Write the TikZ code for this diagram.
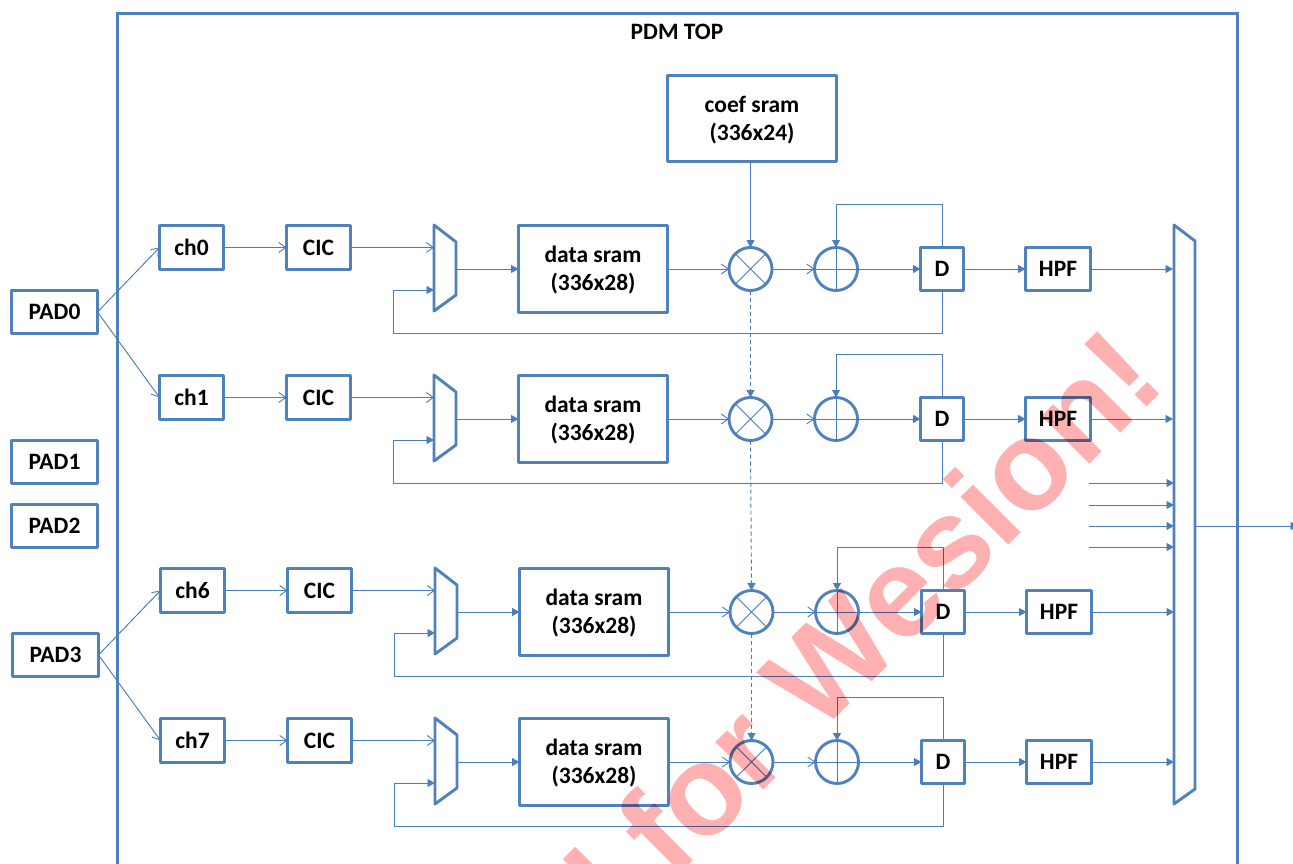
\documentclass[tikz,border=0pt]{standalone}
\usepackage{fontspec}
\setmainfont{Carlito}
\newfontfamily\wmfont{Liberation Sans}
\usetikzlibrary{arrows.meta}
\definecolor{boxblue}{HTML}{4F81BD}
\definecolor{wirblue}{HTML}{4A7EBB}
\definecolor{wmpink}{HTML}{FFB0B0}
\tikzset{
  blockbox/.style={draw=boxblue,line width=3.1pt,line join=round,outer sep=0pt,inner sep=0pt,font=\fontsize{23.5}{28}\selectfont\bfseries,align=center,text=black},
  bubble/.style={circle,draw=boxblue,line width=2.9pt,outer sep=0pt,inner sep=0pt,minimum size=43pt},
  muxshape/.style={draw=boxblue,line width=2.9pt,line join=round},
  wire/.style={draw=wirblue,line width=0.95pt},
  fillarrow/.style={wire,-{Triangle[width=8pt,length=7.5pt]}},
  openarrow/.style={wire,-{Straight Barb[width=10pt,length=7pt,line width=0.9pt]}},
  dasharrow/.style={fillarrow,dash pattern=on 4pt off 3pt},
  crossline/.style={wire,line width=0.9pt},
}
\begin{document}
\begin{tikzpicture}[x=1pt,y=-1pt]
\useasboundingbox (0,0) rectangle (1293,864);
\clip (0,0) rectangle (1293,864);
\fill[white] (0,0) rectangle (1293,864);
% top frame
\draw[boxblue,line width=3.1pt] (117.5,890) -- (117.5,13.5) -- (1237.5,13.5) -- (1237.5,890);
\node[font=\fontsize{23.5}{28}\selectfont\bfseries,text=black] (toplabel) at (677,32) {PDM TOP};
% pads
\node[blockbox,minimum width=86pt,minimum height=43pt] (PAD0) at (54.5,312) {PAD0};
\node[blockbox,minimum width=86pt,minimum height=43pt] (PAD1) at (54.5,462) {PAD1};
\node[blockbox,minimum width=86pt,minimum height=43pt] (PAD2) at (54.5,526) {PAD2};
\node[blockbox,minimum width=86pt,minimum height=43pt] (PAD3) at (55.5,655) {PAD3};
% coef
\node[blockbox,minimum width=169pt,minimum height=86pt] (coef) at (752,118.5) {\rule{0pt}{19.5pt}coef sram\\(336x24)};
% big mux
\coordinate (bm1) at (1174,225);
\coordinate (bm2) at (1195,241);
\coordinate (bm3) at (1195,789);
\coordinate (bm4) at (1174,804);
\draw[muxshape] (bm1) -- (bm2) -- (bm3) -- (bm4) -- cycle;
% rows
\foreach \s/\dx/\dy/\chn in {0/0/0/ch0,1/0/150/ch1,6/1/343/ch6,7/1/493/ch7}{
\begin{scope}[shift={(\dx,\dy)}]
  \node[blockbox,minimum width=64pt,minimum height=44pt] (ch\s) at (191.5,247.5) {\chn};
  \node[blockbox,minimum width=64pt,minimum height=44pt] (cic\s) at (318.5,247.5) {CIC};
  \coordinate (ma\s) at (434,225);
  \coordinate (mb\s) at (456,242);
  \coordinate (mc\s) at (456,295);
  \coordinate (md\s) at (434,311);
  \coordinate (min\s) at (434,247.5);
  \coordinate (mfb\s) at (434,290);
  \coordinate (fbc\s) at (393,290);
  \coordinate (mout\s) at (456,269);
  \draw[muxshape] (ma\s) -- (mb\s) -- (mc\s) -- (md\s) -- cycle;
  \node[blockbox,minimum width=149pt,minimum height=87pt] (sram\s) at (593,269) {\rule{0pt}{19.5pt}data sram\\(336x28)};
  \node[bubble] (mul\s) at (750.5,269) {};
  \draw[crossline] (mul\s.45) -- (mul\s.225) (mul\s.135) -- (mul\s.315);
  \node[bubble] (add\s) at (836,269) {};
  \draw[crossline] (add\s.north) -- (add\s.south) (add\s.west) -- (add\s.east);
  \node[blockbox,minimum width=43pt,minimum height=43pt] (D\s) at (942,269) {D};
  \node[blockbox,minimum width=65pt,minimum height=43pt] (hpf\s) at (1058,269) {HPF};
  \coordinate (bi\s) at (1173,269);
  \draw[openarrow] (ch\s) -- (cic\s);
  \draw[openarrow] (cic\s.east) -- (min\s);
  \draw[fillarrow] (mout\s) -- (sram\s.west);
  \draw[openarrow] (sram\s.east) -- (mul\s.west);
  \draw[openarrow] (mul\s.east) -- (add\s.west);
  \draw[fillarrow] (add\s.east) -- (D\s.west);
  \draw[fillarrow] (D\s.east) -- (hpf\s.west);
  \draw[fillarrow] (hpf\s.east) -- (bi\s);
  \draw[fillarrow,line join=miter] (D\s.north) -- ++(0,-43) -| (add\s.north);
  \draw[fillarrow,line join=miter] (D\s.south) -- ++(0,43) -| (fbc\s) -- (mfb\s);
\end{scope}
}
% pad links
\draw[openarrow] (PAD0.east) -- (ch0.west);
\draw[openarrow] (PAD0.east) -- (ch1.west);
\draw[openarrow] (PAD3.east) -- (ch6.west);
\draw[openarrow] (PAD3.east) -- (ch7.west);
% coef and dashed links
\draw[fillarrow] (mul0.north |- coef.south) -- (mul0.north);
\draw[dasharrow] (mul0.south) -- (mul1.north);
\draw[dasharrow] (mul1.south) -- (mul6.north);
\draw[dasharrow] (mul6.south) -- (mul7.north);
% extra inputs
\foreach \n/\yy in {a/483,b/505,c/526,d/547}{
  \coordinate (xs\n) at (1089,\yy);
  \coordinate (xe\n) at (1174,\yy);
  \draw[fillarrow] (xs\n) -- (xe\n);
}
% output
\coordinate (busout) at (1195,526);
\coordinate (busend) at (1298,526);
\draw[fillarrow] (busout) -- (busend);
% watermark
\begin{scope}[blend mode=multiply]
\node[rotate=45,anchor=base west,text=wmpink,inner sep=0pt,font=\wmfont\bfseries\fontsize{128}{128}\selectfont] (mark) at (622,932) {l for Wesion!};
\end{scope}
\end{tikzpicture}
\end{document}
